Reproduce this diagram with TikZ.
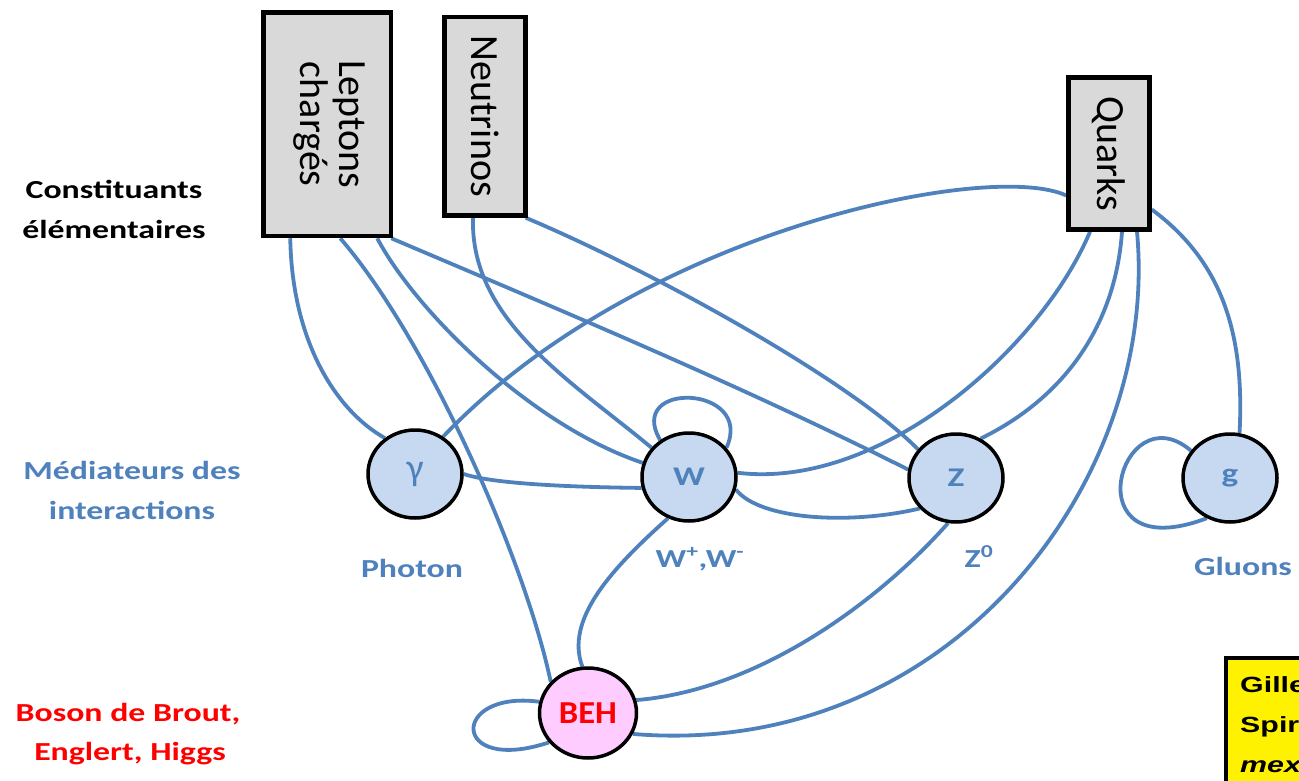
\documentclass[tikz,border=0pt]{standalone}
\usepackage{fontspec}
\setmainfont{Carlito}
\newfontfamily\arialf{Liberation Sans}
\usepackage{graphicx}
\usetikzlibrary{shapes.geometric}
\definecolor{lineblue}{RGB}{79,129,189}
\definecolor{circfill}{RGB}{198,217,241}
\definecolor{boxgray}{RGB}{217,217,217}
\definecolor{pinkfill}{RGB}{255,204,255}
\newcommand\sx[1]{\scalebox{1.3}[1]{#1}}
\newcommand\syx[1]{\scalebox{1.38}[1]{#1}}
\pgfdeclarelayer{bg}
\pgfsetlayers{bg,main}
\begin{document}
\begin{tikzpicture}[x=1pt,y=-1pt,
  partbox/.style={rectangle, draw=black, line width=4.5pt, fill=boxgray, inner sep=0pt, font=\fontsize{40}{37}\selectfont},
  med/.style={ellipse, draw=black, line width=3.5pt, fill=circfill, minimum width=94pt, minimum height=88pt, inner sep=0pt, text=lineblue, font=\bfseries\fontsize{27}{28}\selectfont},
  conn/.style={draw=lineblue, line width=3.8pt},
  rowlabel/.style={anchor=base, font=\bfseries\fontsize{26}{30}\selectfont, inner sep=0pt},
  yeltext/.style={anchor=base west, inner sep=0pt, font=\arialf\bfseries\fontsize{22}{26}\selectfont}
]
\useasboundingbox (0,0) rectangle (1299,781);
\clip (0,0) rectangle (1299,781);

% constituent boxes
\node[partbox, minimum width=127.5pt, minimum height=223.5pt] (lep) at (327.25,124.25)
  {\rotatebox{-90}{\begin{tabular}{@{}c@{}}Leptons\\chargés\end{tabular}}};
\node[partbox, minimum width=81pt, minimum height=198.5pt] (neu) at (485,116.25)
  {\rotatebox{-90}{Neutrinos}};
\node[partbox, minimum width=81pt, minimum height=152pt] (qua) at (1109,153.5)
  {\rotatebox{-90}{Quarks}};

% mediators
\node[med] (gam) at (415,474) {\mdseries\fontsize{38}{40}\selectfont γ};
\node[med] (w) at (689,477) {\sx{W}};
\node[med] (z) at (956,478) {\sx{Z}};
\node[med] (g) at (1230,478) {\sx{g}};
\node[med, fill=pinkfill, minimum width=97pt, minimum height=90pt, text=red, font=\bfseries\fontsize{32}{34}\selectfont] (beh) at (588,713) {\scalebox{1.08}[1]{BEH}};

% row labels
\node[rowlabel] (c1) at (114,199) {\sx{Constituants}};
\node[rowlabel] (c2) at (114,238) {\sx{élémentaires}};
\node[rowlabel, text=lineblue] (m1) at (132,479) {\sx{Médiateurs des}};
\node[rowlabel, text=lineblue] (m2) at (132,519) {\sx{interactions}};
\node[rowlabel, text=red] (b1) at (128,721) {\sx{Boson de Brout,}};
\node[rowlabel, text=red] (b2) at (130,760) {\sx{Englert, Higgs}};

% particle labels
\node[rowlabel, text=lineblue] (pl) at (412,577) {\sx{Photon}};
\node[rowlabel, text=lineblue] (wl) at (700,567) {\sx{W\textsuperscript{+},W\textsuperscript{-}}};
\node[rowlabel, text=lineblue] (zl) at (979,567) {\sx{Z\textsuperscript{0}}};
\node[rowlabel, text=lineblue] (gl) at (1243,575) {\sx{Gluons}};

% yellow note (cut by the picture edge)
\node[rectangle, draw=black, line width=4pt, fill=yellow, anchor=north west, minimum width=140pt, minimum height=160pt] (yel) at (1223.5,656) {};
\node[yeltext] (y1) at (1240,692) {\syx{Gille}};
\node[yeltext] (y2) at (1240,732) {\syx{Spir}};
\node[yeltext, font=\arialf\bfseries\itshape\fontsize{22}{26}\selectfont] (y3) at (1240,772) {\syx{mex}};

\begin{pgfonlayer}{bg}
\draw[conn] ([xshift=-37pt]lep.south) .. controls (292,340) and (335,410) .. (gam.130);
\draw[conn] ([xshift=13pt]lep.south) .. controls (428,340) and (525,560) .. (beh.140);
\draw[conn] ([xshift=50pt]lep.south) .. controls (415,310) and (530,425) .. (w.163);
\draw[conn] ([xshift=-2pt]lep.south east) .. controls (560,310) and (740,385) .. (z.170);
\draw[conn] ([xshift=-12pt]neu.south) .. controls (470,320) and (570,380) .. (w.142);
\draw[conn] ([xshift=-2pt]neu.south east) .. controls (650,270) and (850,380) .. (z.143);
\draw[conn] ([yshift=-42pt]qua.west) .. controls (990,160) and (640,230) .. (gam.53);
\draw[conn] ([xshift=-19pt]qua.south) .. controls (1040,350) and (880,490) .. (w.5);
\draw[conn] ([xshift=13pt]qua.south) .. controls (1115,330) and (1060,400) .. (z.58);
\draw[conn] ([xshift=28pt]qua.south) .. controls (1160,480) and (950,760) .. (beh.-25);
\draw[conn] ([yshift=-56pt]qua.east) .. controls (1220,260) and (1245,330) .. (g.78);
\draw[conn] (g.145) .. controls (1120,390) and (1070,570) .. (g.-120);
\draw[conn] (w.128) .. controls (625,380) and (755,385) .. (w.38);
\draw[conn] (gam.east) .. controls (490,483) and (560,487) .. (w.-167);
\draw[conn] (w.-15) .. controls (760,520) and (850,525) .. (z.-140);
\draw[conn] (w.-117) .. controls (610,570) and (565,620) .. (beh.97);
\draw[conn] (z.-100) .. controls (880,600) and (760,690) .. (beh.15);
\draw[conn] (beh.167) .. controls (450,690) and (450,775) .. (beh.-143);
\end{pgfonlayer}
\end{tikzpicture}
\end{document}
